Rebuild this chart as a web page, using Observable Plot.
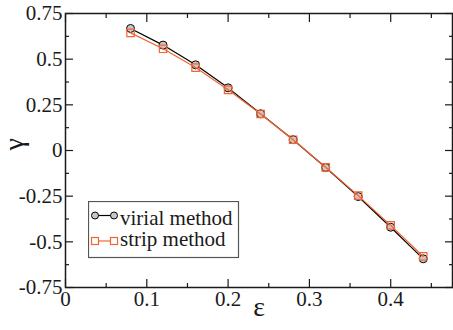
<!DOCTYPE html>
<html>
<head>
<meta charset="utf-8">
<script src="https://cdn.jsdelivr.net/npm/d3@7"></script>
<script src="https://cdn.jsdelivr.net/npm/@observablehq/plot@0.6"></script>
<style>
  html, body { margin: 0; padding: 0; background: #fff; }
  #chart { position: relative; width: 453px; height: 330px; }
  #legend { position: absolute; left: 88px; top: 201px; }
  #chart svg, #chart svg text { font-family: "Liberation Serif", "Times New Roman", "DejaVu Serif", serif !important; }
</style>
</head>
<body>
<div id="chart"></div>
<script>
// ---- data ----
const eps = [0.08, 0.12, 0.16, 0.20, 0.24, 0.28, 0.32, 0.36, 0.40, 0.44];
const virial = [0.668, 0.577, 0.469, 0.343, 0.201, 0.059, -0.093, -0.252, -0.420, -0.593];
const strip  = [0.644, 0.557, 0.454, 0.332, 0.200, 0.059, -0.092, -0.247, -0.410, -0.580];
const seriesNames = ["virial method", "strip method"];
const xTicks = [0, 0.1, 0.2, 0.3, 0.4];
const xTickLabels = ["0", "0.1", "0.2", "0.3", "0.4"];
const xMinor = [0.05, 0.15, 0.25, 0.35, 0.45];
const yTicks = [-0.75, -0.5, -0.25, 0, 0.25, 0.5, 0.75];
const yTickLabels = ["-0.75", "-0.5", "-0.25", "0", "0.25", "0.5", "0.75"];
const yMinor = [-0.625, -0.375, -0.125, 0.125, 0.375, 0.625];

const ORANGE = "#f26430";
const INK = "#1a1a1a";
const FONT = "'Liberation Serif', 'Times New Roman', 'DejaVu Serif', serif";

const vData = eps.map((e, i) => ({x: e, y: virial[i]}));
const sData = eps.map((e, i) => ({x: e, y: strip[i]}));

const tickAxes = [];
for (const anchor of ["bottom", "top"]) {
  tickAxes.push(Plot.axisX(xTicks, {anchor, tickSize: -8, fill: "none", label: null, stroke: INK, strokeWidth: 1.2}));
  tickAxes.push(Plot.axisX(xMinor, {anchor, tickSize: -4, fill: "none", label: null, stroke: INK, strokeWidth: 1.2}));
}
for (const anchor of ["left", "right"]) {
  tickAxes.push(Plot.axisY(yTicks, {anchor, tickSize: -8, fill: "none", label: null, stroke: INK, strokeWidth: 1.2}));
  tickAxes.push(Plot.axisY(yMinor, {anchor, tickSize: -4, fill: "none", label: null, stroke: INK, strokeWidth: 1.2}));
}

const plot = Plot.plot({
  width: 453,
  height: 330,
  marginLeft: 65,
  marginRight: 1,
  marginTop: 13,
  marginBottom: 43,
  style: {fontFamily: FONT, fontSize: "21px", color: INK, background: "#fff"},
  x: {domain: [0, 0.476]},
  y: {domain: [-0.75, 0.75]},
  marks: [
    ...tickAxes,
    Plot.axisX(xTicks, {anchor: "bottom", tickSize: 0, tickPadding: 4, label: null, fontSize: 21,
      tickFormat: d => xTickLabels[xTicks.indexOf(d)]}),
    Plot.axisY(yTicks, {anchor: "left", tickSize: 0, tickPadding: 3, label: null, fontSize: 21,
      tickFormat: d => yTickLabels[yTicks.indexOf(d)]}),
    Plot.text(["ε"], {frameAnchor: "bottom", dy: 28, fontSize: 28, fill: INK}),
    Plot.text(["γ"], {frameAnchor: "left", dx: -51, rotate: -90, fontSize: 28, fill: INK}),
    Plot.line(vData, {x: "x", y: "y", stroke: "#000", strokeWidth: 1.2}),
    Plot.dot(vData, {x: "x", y: "y", r: 4, fill: "#c8c8c8", stroke: "#000", strokeWidth: 1}),
    Plot.line(sData, {x: "x", y: "y", stroke: ORANGE, strokeWidth: 1.2}),
    Plot.dot(sData, {x: "x", y: "y", r: 4.2, symbol: "square", fill: "none", stroke: ORANGE, strokeWidth: 1.2}),
    Plot.frame({stroke: INK, strokeWidth: 1.5})
  ]
});

const chart = document.getElementById("chart");
chart.appendChild(plot);

// ---- legend (overlay) ----
const lg = d3.create("svg").attr("id", "legend").attr("width", 152).attr("height", 59)
  .style("font-family", FONT).style("font-size", "21px");
lg.append("rect").attr("x", 0.5).attr("y", 0.5).attr("width", 150).attr("height", 56)
  .attr("fill", "#fff").attr("stroke", "#555").attr("stroke-width", 1.2);
const rows = [
  {name: seriesNames[0], sy: 14.5, ty: 23.5, color: "#000", shape: "circle"},
  {name: seriesNames[1], sy: 40, ty: 44.5, color: ORANGE, shape: "square"}
];
for (const r of rows) {
  lg.append("line").attr("x1", 7).attr("x2", 26).attr("y1", r.sy).attr("y2", r.sy)
    .attr("stroke", r.color).attr("stroke-width", 1.2);
  for (const cx of [7, 26]) {
    if (r.shape === "circle") {
      lg.append("circle").attr("cx", cx).attr("cy", r.sy).attr("r", 3.5)
        .attr("fill", "#c8c8c8").attr("stroke", "#000").attr("stroke-width", 1);
    } else {
      lg.append("rect").attr("x", cx - 3.5).attr("y", r.sy - 3.5).attr("width", 7).attr("height", 7)
        .attr("fill", "#fff").attr("stroke", ORANGE).attr("stroke-width", 1.2);
    }
  }
  lg.append("text").attr("x", 32).attr("y", r.ty).attr("fill", INK).text(r.name);
}
chart.appendChild(lg.node());
</script>
</body>
</html>
